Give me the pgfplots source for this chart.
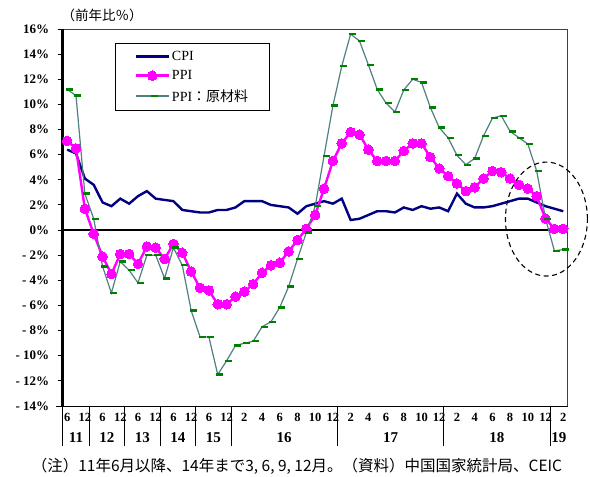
\documentclass[border=0pt]{standalone}
\usepackage{fontspec}
\setmainfont{Liberation Serif}
\newfontfamily\jp{Noto Sans CJK JP}
\usepackage{pgfplots}
\pgfplotsset{compat=1.18}
\usepackage{pgfplotstable}

\definecolor{cpi}{RGB}{0,0,128}
\definecolor{ppi}{RGB}{255,0,255}
\definecolor{rawline}{RGB}{80,128,128}
\definecolor{rawmark}{RGB}{0,128,0}

% slot: 0-14 = 2011/6..2014/12 quarterly, 15-18 = 2015 quarterly, 19- = monthly from 2016/1
\pgfplotstableread{
i  cpi  ppi   raw
0  6.4  7.1   11.2
1  6.1  6.5   10.7
2  4.1  1.7   2.9
3  3.6  -0.3  0.9
4  2.2  -2.1  -2.9
5  1.9  -3.5  -5.0
6  2.5  -1.9  -2.5
7  2.1  -1.9  -3.2
8  2.7  -2.7  -4.2
9  3.1  -1.3  -2.0
10 2.5  -1.4  -2.0
11 2.4  -2.3  -3.85
12 2.3  -1.1  -1.4
13 1.6  -1.8  -2.8
14 1.5  -3.3  -6.4
15 1.4  -4.6  -8.5
16 1.4  -4.8  -8.5
17 1.6  -5.9  -11.5
18 1.6  -5.9  -10.4
19 1.8  -5.3  -9.2
20 2.3  -4.9  -9.0
21 2.3  -4.3  -8.85
22 2.3  -3.4  -7.7
23 2.0  -2.8  -7.3
24 1.9  -2.6  -6.15
25 1.8  -1.7  -4.5
26 1.3  -0.8  -2.3
27 1.9  0.1   -0.2
28 2.1  1.2   1.9
29 2.3  3.3   5.9
30 2.1  5.5   9.9
31 2.5  6.9   13.05
32 0.8  7.8   15.6
33 0.9  7.6   15.05
34 1.2  6.4   13.15
35 1.5  5.5   11.2
36 1.5  5.5   10.1
37 1.4  5.5   9.4
38 1.8  6.3   11.15
39 1.6  6.9   12.0
40 1.9  6.9   11.75
41 1.7  5.8   9.75
42 1.8  4.9   8.15
43 1.5  4.3   7.35
44 2.9  3.7   5.95
45 2.1  3.1   5.2
46 1.8  3.4   5.7
47 1.8  4.1   7.5
48 1.9  4.7   8.9
49 2.1  4.6   9.1
50 2.3  4.1   7.85
51 2.5  3.6   7.35
52 2.5  3.3   6.85
53 2.2  2.7   4.7
54 1.9  0.9   0.9
55 1.7  0.1   -1.65
56 1.5  0.1   -1.55
}\datatable

\begin{document}
\begin{tikzpicture}
\begin{axis}[
  scale only axis, width=505pt, height=377pt,
  xmin=-0.5, xmax=56.5, ymin=-14, ymax=16,
  clip=false,
  axis line style={draw=none},
  ytick={-14,-12,...,16},
  yticklabels={- 14\%,- 12\%,- 10\%,- 8\%,- 6\%,- 4\%,- 2\%,0\%,2\%,4\%,6\%,8\%,10\%,12\%,14\%,16\%},
  ytick pos=left,
  ytick style={black, line width=0.9pt},
  y tick label style={font=\bfseries\fontsize{13}{15}\selectfont, xshift=-5pt},
  tick align=outside,
  major tick length=5pt,
  xtick={0,2,4,6,8,10,12,14,16,18,20,22,24,26,28,30,32,34,36,38,40,42,44,46,48,50,52,54,56},
  xticklabels={6,12,6,12,6,12,6,12,6,12,2,4,6,8,10,12,2,4,6,8,10,12,2,4,6,8,10,12,2},
  xtick pos=bottom,
  xtick style={draw=none},
  x tick label style={font=\bfseries\fontsize{12.5}{14}\selectfont, yshift=1pt},
  extra x ticks={1,4.5,8.5,12.5,16.5,24.5,36.5,48.5,55.5},
  extra x tick labels={11,12,13,14,15,16,17,18,19},
  extra x tick style={xtick style={draw=none}, x tick label style={font=\bfseries\fontsize{15}{17}\selectfont, yshift=-19pt}},
  legend style={at={(rel axis cs:0.1036,0.963)}, anchor=north west, draw=black, line width=1.1pt,
    font=\fontsize{14}{16}\selectfont, inner xsep=19pt, inner ysep=5.5pt, row sep=4.5pt},
  legend cell align=left,
  legend image code/.code={
    \draw[mark repeat=2,mark phase=2,#1] plot coordinates {(0pt,0pt) (16.5pt,0pt) (33pt,0pt)};
  },
]
% frame and zero line
\draw[line width=0.9pt, black!75] (rel axis cs:0,1) -- (rel axis cs:1,1) -- (rel axis cs:1,0);
\draw[line width=0.9pt] (rel axis cs:0,0) ++(-7pt,0pt) -- (rel axis cs:1,0);
\draw[line width=2.4pt] (axis cs:-0.5,0) -- (axis cs:56.5,0);
\pgfplotsinvokeforeach{-0.5,2.5,6.5,10.5,14.5,18.5,30.5,42.5,54.5}{
  \draw[line width=0.9pt] (axis cs:#1,-14) -- ++(0pt,-40pt);
}

\addplot[cpi, line width=2.4pt, mark=none] table[x=i, y=cpi] {\datatable};
\addlegendentry{CPI}
\addplot[ppi, line width=2.4pt, mark=*, mark size=4.8pt, mark options={fill=ppi, draw=ppi, line width=0pt}] table[x=i, y=ppi] {\datatable};
\addlegendentry{PPI}
\addplot[rawline, line width=1.2pt, mark=-, mark size=3.5pt, mark options={draw=rawmark, line width=2.4pt, xshift=2pt}] table[x=i, y=raw] {\datatable};
\addlegendentry{PPI{\jp ：原材料}}

\draw[line width=2.4pt] (rel axis cs:0,0) -- (rel axis cs:0,1);
\draw[line width=1.1pt, dash pattern=on 5pt off 3.5pt] (axis cs:54.1,0.875) ellipse [x radius=41pt, y radius=57pt];
\coordinate (O) at (rel axis cs:0,0);
\end{axis}
\node[anchor=west, font=\jp\fontsize{13.5}{15}\selectfont] at ([xshift=-4.7pt,yshift=391pt]O) {（前年比％）};
\node[font=\jp\fontsize{15.5}{17}\selectfont] at ([xshift=234.3pt,yshift=-60pt]O) {（注）11年6月以降、14年まで3, 6, 9, 12月。（資料）中国国家統計局、CEIC};
\pgfresetboundingbox
\path ([xshift=-62.7pt,yshift=-71pt]O) rectangle ([xshift=527.3pt,yshift=406pt]O);
\end{tikzpicture}
\end{document}
